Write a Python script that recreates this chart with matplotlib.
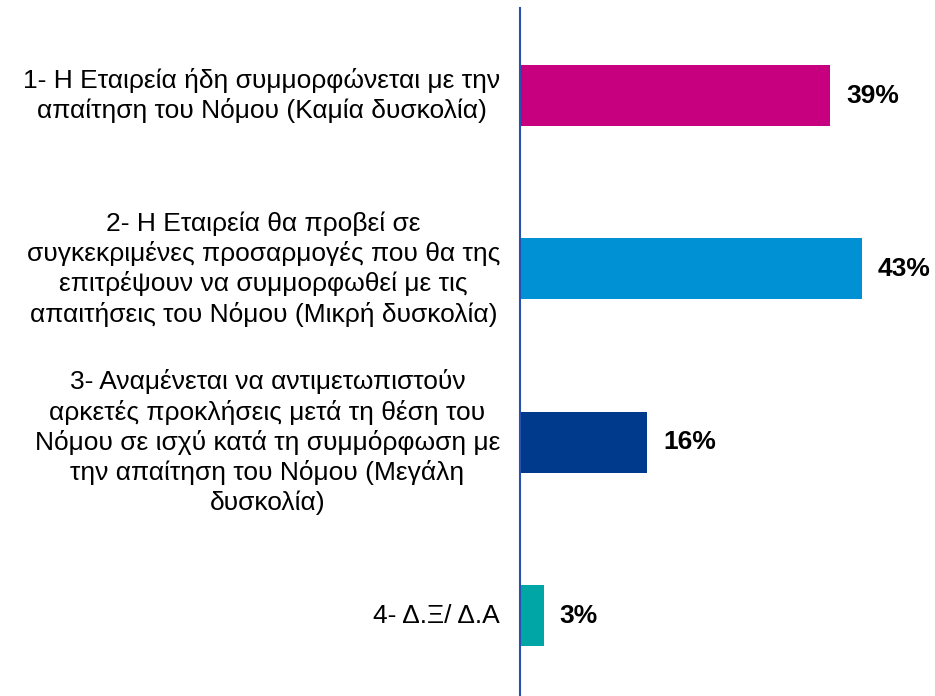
import matplotlib
matplotlib.use("Agg")
import matplotlib.pyplot as plt

plt.rcParams['font.family'] = ['Liberation Sans', 'DejaVu Sans']

labels = [
    "1- Η Εταιρεία ήδη συμμορφώνεται με την\nαπαίτηση του Νόμου (Καμία δυσκολία)",
    "2- Η Εταιρεία θα προβεί σε\nσυγκεκριμένες προσαρμογές που θα της\nεπιτρέψουν να συμμορφωθεί με τις\nαπαιτήσεις του Νόμου (Μικρή δυσκολία)",
    "3- Αναμένεται να αντιμετωπιστούν\nαρκετές προκλήσεις μετά τη θέση του\nΝόμου σε ισχύ κατά τη συμμόρφωση με\nτην απαίτηση του Νόμου (Μεγάλη\nδυσκολία)",
    "4- Δ.Ξ/ Δ.Α",
]
values = [39, 43, 16, 3]
value_labels = ["39%", "43%", "16%", "3%"]
colors = ["#C6007E", "#0091D5", "#003A8C", "#00A5A5"]

fig = plt.figure(figsize=(9.35, 6.96), dpi=100)
ax = fig.add_axes([520 / 935, 0, 415 / 935, 688 / 696])

ypos = list(range(len(values)))
ax.barh(ypos, values, height=0.352, color=colors)

for y, v, t in zip(ypos, values, value_labels):
    ax.text(v + 2.0, y, t, va='center', ha='left', fontsize=19, fontweight='bold')

for y, lab in zip(ypos, labels):
    ax.text(-2.5, y, lab, va='center', ha='right', multialignment='center',
            fontsize=19, linespacing=1.27)

ax.set_xlim(0, 415 / 7.95)
ax.set_ylim(3.464, -0.505)
for s in ['top', 'right', 'bottom']:
    ax.spines[s].set_visible(False)
ax.spines['left'].set_color('#2850B0')
ax.spines['left'].set_linewidth(1.5)
ax.set_xticks([])
ax.set_yticks([])

fig.savefig("out.png", dpi=100)
